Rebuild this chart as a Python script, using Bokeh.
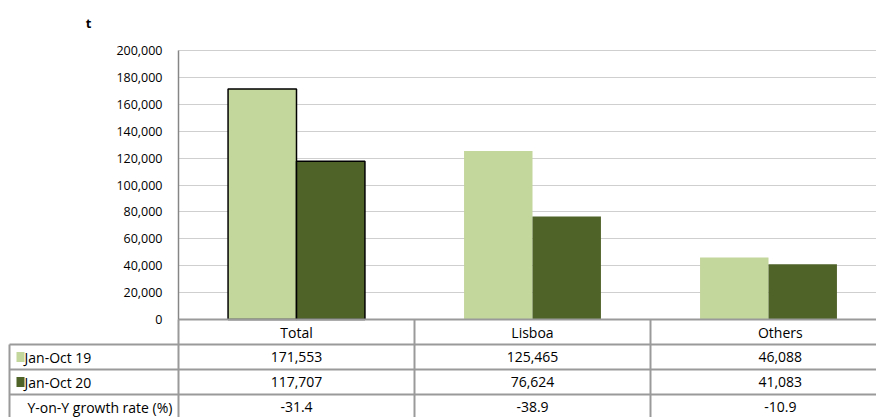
import numpy as np
from bokeh.plotting import figure
from bokeh.models import Range1d, FixedTicker, NumeralTickFormatter, ColumnDataSource, Grid
from bokeh.core.properties import value
from bokeh.embed import file_html
from bokeh.resources import INLINE

# ---------------- data ----------------
categories = ["Total", "Lisboa", "Others"]
jan_oct_19 = [171553, 125465, 46088]
jan_oct_20 = [117707, 76624, 41083]
yoy_growth = [-31.4, -38.9, -10.9]
series_names = ["Jan-Oct 19", "Jan-Oct 20"]
growth_label = "Y-on-Y growth rate (%)"
y_ticks = [0, 20000, 40000, 60000, 80000, 100000, 120000, 140000, 160000, 180000, 200000]
unit_label = "t"

# ---------------- layout (pixels of the canvas) ----------------
W, H = 876, 417
AXIS_PX = 178      # canvas x of the value axis / first category edge
CAT_PX = 236       # width of one category
ZERO_PX = 319      # canvas y of value 0
TOP_PX = 50.2      # canvas y of value 200,000
ROW_PX = 25.0      # table row height
LIGHT = "#C3D69B"
DARK = "#4F6228"
LINE = "#9a9a9a"
FONT = "Open Sans"

def xd(px):
    return (px - AXIS_PX) / CAT_PX

Y_PER_PX = y_ticks[-1] / (ZERO_PX - TOP_PX)

def rd(py):
    return (py - ZERO_PX) / ROW_PX

p = figure(width=W, height=H, output_backend="svg", toolbar_location=None,
           x_range=Range1d(xd(0), xd(W)),
           y_range=Range1d(-(H - ZERO_PX) * Y_PER_PX, ZERO_PX * Y_PER_PX),
           x_axis_location=None, min_border=0)
p.extra_y_ranges = {"tbl": Range1d(start=rd(H), end=rd(0))}
p.outline_line_color = None
p.background_fill_color = "white"
p.border_fill_color = "white"

# value axis
ax = p.yaxis[0]
ax.fixed_location = 0
ax.ticker = FixedTicker(ticks=y_ticks)
ax.formatter = NumeralTickFormatter(format="0,0")
ax.bounds = (y_ticks[0], y_ticks[-1])
ax.major_tick_line_color = None
ax.minor_tick_line_color = None
ax.axis_line_color = "#868686"
ax.axis_line_width = 1.5
ax.major_label_standoff = 10
ax.major_label_text_font = FONT
ax.major_label_text_font_size = "12.5px"
ax.major_label_text_color = "#000000"

p.xgrid.visible = False
g = p.ygrid[0]
g.grid_line_color = "#cfcfcf"
g.grid_line_width = 1
if "cross_bounds" in Grid.properties():
    g.cross_bounds = (0, 10)
else:
    g.visible = False
    p.segment(x0=0, x1=10, y0=y_ticks, y1=y_ticks, line_color="#cfcfcf", line_width=1)

# ---------------- bars ----------------
idx = np.arange(len(categories))
off = 0.145
bw = 0.29
outline_alpha = [1.0 if c == "Total" else 0.0 for c in categories]
src19 = ColumnDataSource(dict(x=idx + 0.5 - off, top=jan_oct_19, la=outline_alpha))
src20 = ColumnDataSource(dict(x=idx + 0.5 + off, top=jan_oct_20, la=outline_alpha))
p.vbar(x="x", top="top", bottom=0, width=bw, source=src19, fill_color=LIGHT,
       line_color="black", line_alpha="la", line_width=1.5)
p.vbar(x="x", top="top", bottom=0, width=bw, source=src20, fill_color=DARK,
       line_color="black", line_alpha="la", line_width=1.5)

# ---------------- data table ----------------
right = xd(W) + 0.2
left = xd(9)
n_rows = 4
hy = list(range(n_rows + 1))
hx0 = [0] + [left] * n_rows
p.segment(x0=hx0, x1=right, y0=hy, y1=hy, line_color=LINE, line_width=2, y_range_name="tbl")
vx = [left] + list(range(len(categories)))
vy0 = [1] + [0] * len(categories)
p.segment(x0=vx, x1=vx, y0=vy0, y1=n_rows, line_color=LINE, line_width=2, y_range_name="tbl")

col_edges = [0, 1, 2, 3.1]
col_centers = [(a + b) / 2 for a, b in zip(col_edges[:-1], col_edges[1:])]
txt = dict(text_font=value(FONT), text_font_size="14px", text_color="#000000",
           text_baseline="middle", y_range_name="tbl")
p.text(x=col_centers, y=[0.5] * 3, text=categories, text_align="center", **txt)
p.text(x=col_centers, y=[1.5] * 3, text=[f"{v:,}" for v in jan_oct_19], text_align="center", **txt)
p.text(x=col_centers, y=[2.5] * 3, text=[f"{v:,}" for v in jan_oct_20], text_align="center", **txt)
p.text(x=col_centers, y=[3.5] * 3, text=[f"{v:.1f}" for v in yoy_growth], text_align="center", **txt)

# row headers with legend keys
p.rect(x=[xd(20)] * 2, y=[1.5, 2.5], width=8, height=10, width_units="screen",
       height_units="screen", fill_color=[LIGHT, DARK], line_color=None, y_range_name="tbl")
p.text(x=[xd(24)] * 2, y=[1.5, 2.5], text=series_names, text_align="left", **txt)
p.text(x=[xd(27)], y=[3.5], text=[growth_label], text_align="left", **txt)

# unit
p.text(x=[xd(88)], y=[rd(22)], text=[unit_label], text_align="center", text_baseline="middle",
       text_font=value(FONT), text_font_size="13px", text_font_style="bold",
       text_color="#000000", y_range_name="tbl")

open("out.html", "w").write(file_html(p, INLINE))
